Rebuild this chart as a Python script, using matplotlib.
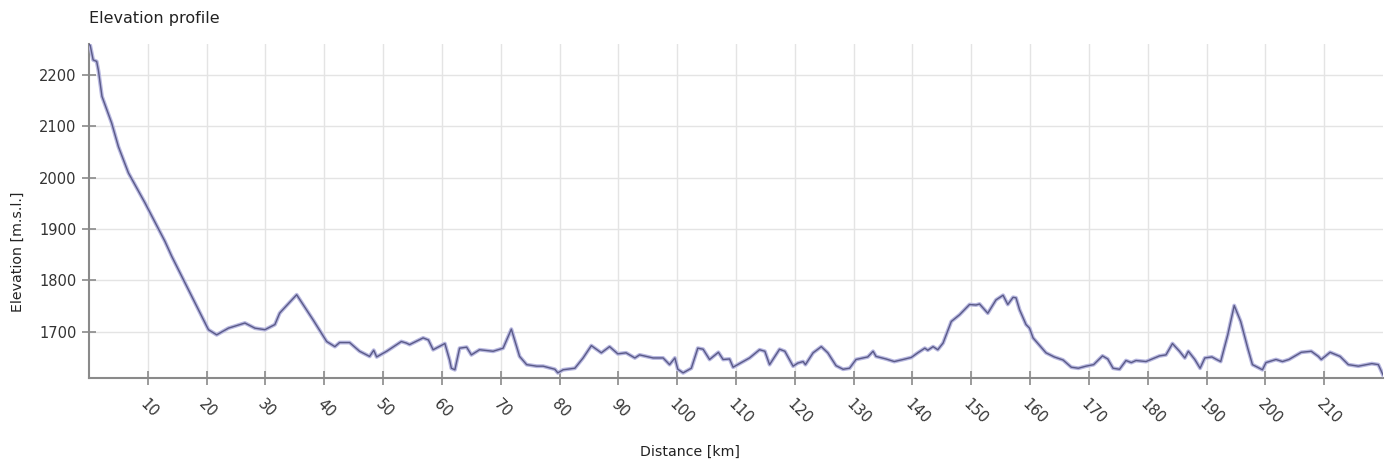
import matplotlib
matplotlib.use("Agg")
import matplotlib.pyplot as plt

# distance [km] and elevation [m]
dist_km = [0.0, 0.2, 0.7, 1.3, 1.6, 2.2, 3.85, 5.0, 6.7, 9.5, 12.9, 14.05, 17.45,
           20.3, 21.7, 23.7, 26.5, 28.2, 29.9, 31.6, 32.4, 32.7, 35.3, 38.1, 40.4,
           41.8, 42.6, 44.3, 46.0, 47.7, 48.4, 48.9, 50.6, 53.1, 53.95, 54.5, 56.8,
           57.7, 58.5, 60.5, 61.3, 61.6, 62.2, 63.0, 64.2, 65.0, 66.4, 68.7, 70.4,
           71.8, 73.2, 74.4, 76.1, 77.2, 79.2, 79.7, 80.6, 82.6, 84.0, 85.4, 87.1,
           88.5, 89.9, 91.3, 92.8, 93.6, 95.9, 97.6, 98.7, 99.6, 100.1, 101.0, 102.4,
           103.5, 104.4, 105.5, 107.0, 107.8, 108.9, 109.5, 111.2, 112.3, 114.0,
           114.9, 115.7, 117.4, 118.3, 119.7, 120.5, 121.4, 121.8, 123.1, 124.5,
           125.6, 127.0, 128.2, 129.3, 130.4, 132.4, 133.3, 133.8, 135.5, 136.9,
           138.4, 139.8, 140.9, 142.1, 142.6, 143.5, 144.3, 145.2, 146.6, 148.0,
           149.7, 150.8, 151.4, 152.8, 154.2, 155.4, 156.2, 157.1, 157.6, 158.2,
           159.3, 159.9, 160.5, 162.7, 164.1, 165.6, 167.0, 168.2, 169.5, 170.8,
           172.3, 173.2, 174.1, 175.2, 176.3, 177.2, 178.0, 179.7, 182.0, 183.1,
           184.2, 185.4, 186.3, 186.9, 188.0, 188.9, 189.7, 190.9, 191.7, 192.4,
           193.6, 194.7, 195.8, 197.0, 197.8, 199.0, 199.5, 200.1, 201.8, 202.9,
           204.0, 206.1, 207.8, 209.0, 209.5, 211.0, 212.7, 214.1, 215.8, 218.1,
           219.2, 220.0]
elev_m = [2260, 2257, 2229, 2226, 2208, 2158, 2106, 2060, 2009, 1951, 1876, 1847, 1769,
          1704, 1694, 1707, 1717, 1707, 1704, 1714, 1736, 1740, 1772, 1723, 1681,
          1671, 1679, 1679, 1662, 1652, 1664, 1651, 1662, 1681, 1678, 1675, 1688,
          1684, 1665, 1677, 1645, 1629, 1626, 1668, 1670, 1655, 1665, 1662, 1668,
          1705, 1652, 1636, 1633, 1633, 1627, 1620, 1626, 1629, 1649, 1673, 1659,
          1671, 1657, 1659, 1649, 1655, 1649, 1649, 1636, 1649, 1627, 1620, 1629,
          1668, 1666, 1646, 1660, 1646, 1647, 1631, 1642, 1649, 1665,
          1662, 1636, 1666, 1662, 1633, 1639, 1642, 1636, 1659, 1671,
          1659, 1634, 1627, 1629, 1646, 1651, 1662, 1652, 1647, 1642,
          1646, 1650, 1659, 1668, 1664, 1671, 1665, 1678, 1720, 1733,
          1753, 1752, 1754, 1736, 1762, 1771, 1753, 1767, 1766, 1743,
          1714, 1707, 1688, 1659, 1651, 1645, 1631, 1629, 1633, 1636,
          1653, 1647, 1629, 1627, 1644, 1640, 1644, 1642, 1653, 1655,
          1677, 1662, 1649, 1662, 1646, 1629, 1649, 1651, 1646, 1642,
          1694, 1751, 1720, 1668, 1636, 1629, 1626, 1640, 1646, 1642,
          1646, 1660, 1662, 1652, 1646, 1660, 1652, 1636, 1633, 1638,
          1636, 1616]

x_ticks = list(range(10, 220, 10))
y_ticks = [1700, 1800, 1900, 2000, 2100, 2200]

fig = plt.figure(figsize=(13.89, 4.63), dpi=100)
ax = fig.add_axes([0.0641, 0.1836, 0.9316, 0.7214])

# soft halo + darker core line
ax.plot(dist_km, elev_m, color="#b8b8e0", lw=2.8, solid_joinstyle="round", zorder=3)
ax.plot(dist_km, elev_m, color="#5a5a88", lw=1.0, zorder=4)

ax.set_xlim(0, 220)
ax.set_ylim(1610, 2260)
ax.set_xticks(x_ticks)
ax.set_yticks(y_ticks)
ax.set_xticklabels([str(t) for t in x_ticks], rotation=-45, ha="left", va="top",
                   rotation_mode="anchor", fontsize=10.5, color="#333333")
ax.set_yticklabels([str(t) for t in y_ticks], fontsize=10.5, color="#333333")

ax.grid(True, color="#e4e4e4", lw=1.0, zorder=0)
ax.set_axisbelow(True)
for s in ["top", "right"]:
    ax.spines[s].set_visible(False)
for s in ["left", "bottom"]:
    ax.spines[s].set_color("#8a8a8a")
    ax.spines[s].set_linewidth(1.5)
ax.tick_params(axis="both", direction="inout", length=10, width=1.2, color="#8a8a8a")
ax.tick_params(axis="x", pad=8)
ax.tick_params(axis="y", pad=4)

fig.text(0.4968, 0.025, "Distance [km]", fontsize=10.2, color="#222222",
         ha="center", va="center")
fig.text(0.0125, 0.4557, "Elevation [m.s.l.]", fontsize=10.2, color="#222222",
         ha="center", va="center", rotation=90)
fig.text(0.0641, 0.961, "Elevation profile", fontsize=11.5, color="#222222", va="center")

fig.savefig("out.png", dpi=100)
